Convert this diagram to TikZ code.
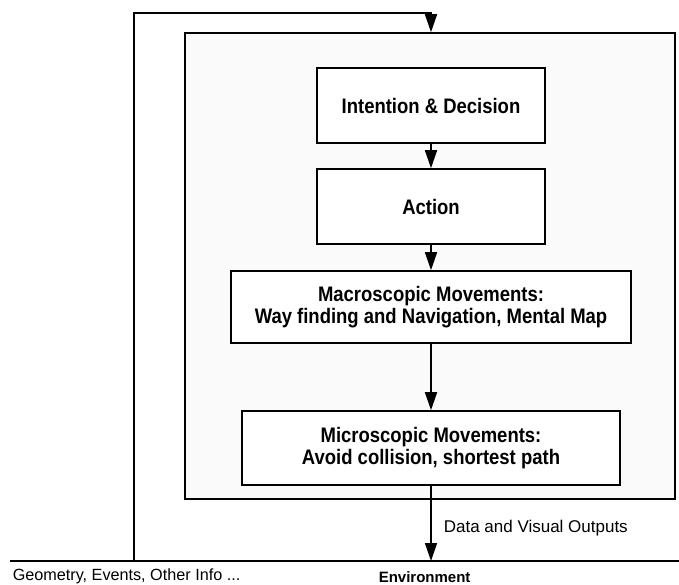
\documentclass[tikz,border=0pt]{standalone}
\usepackage{fontspec}
\setmainfont{Liberation Sans}
\newfontfamily\stagefont[FakeStretch=0.88]{Liberation Sans}
\usetikzlibrary{arrows.meta}
\begin{document}
\begin{tikzpicture}[x=1pt,y=-1pt,
  line width=1.6pt,
  tip/.style={-{Triangle[width=12pt,length=18pt]}},
  stage/.style={draw, fill=white, align=center, inner sep=0pt,
    font=\stagefont\fontsize{21}{22}\selectfont\bfseries},
  plain/.style={inner sep=0pt, anchor=west, font=\fontsize{16.2}{19}\selectfont}]
\useasboundingbox (0,0) rectangle (679,584);
\node[draw, fill=black!2, minimum width=490pt, minimum height=466pt] (frame) at (430,266) {};
\node[stage, minimum width=228pt, minimum height=75pt] (intent) at (431,105.5) {Intention \& Decision};
\node[stage, minimum width=228pt, minimum height=75pt] (action) at (431,206.5) {Action};
\node[stage, minimum width=400pt, minimum height=72pt] (macro) at (431,307) {Macroscopic Movements:\\Way finding and Navigation, Mental Map};
\node[stage, minimum width=378pt, minimum height=74pt] (micro) at (431,448) {Microscopic Movements:\\Avoid collision, shortest path};
\coordinate (lt) at (134,13);
\coordinate (lb) at (134,561);
\coordinate (bl) at (10,561);
\coordinate (br) at (679,561);
\draw (bl) -- (br);
\draw[tip] (lb) -- (lt) -| (intent.north |- frame.north);
\draw[tip] (intent.south) -- (action.north);
\draw[tip] (action.south) -- (macro.north);
\draw[tip] (macro.south) -- (micro.north);
\draw[tip] (micro.south) -- (micro.south |- bl);
\node[plain, font=\fontsize{17}{20}\selectfont] (data) at (443,528) {Data and Visual Outputs};
\node[plain] (geo) at (12,576) {Geometry, Events, Other Info ...};
\node[plain, font=\fontsize{15}{18}\selectfont\bfseries] (env) at (378,577) {Environment};
\end{tikzpicture}
\end{document}
